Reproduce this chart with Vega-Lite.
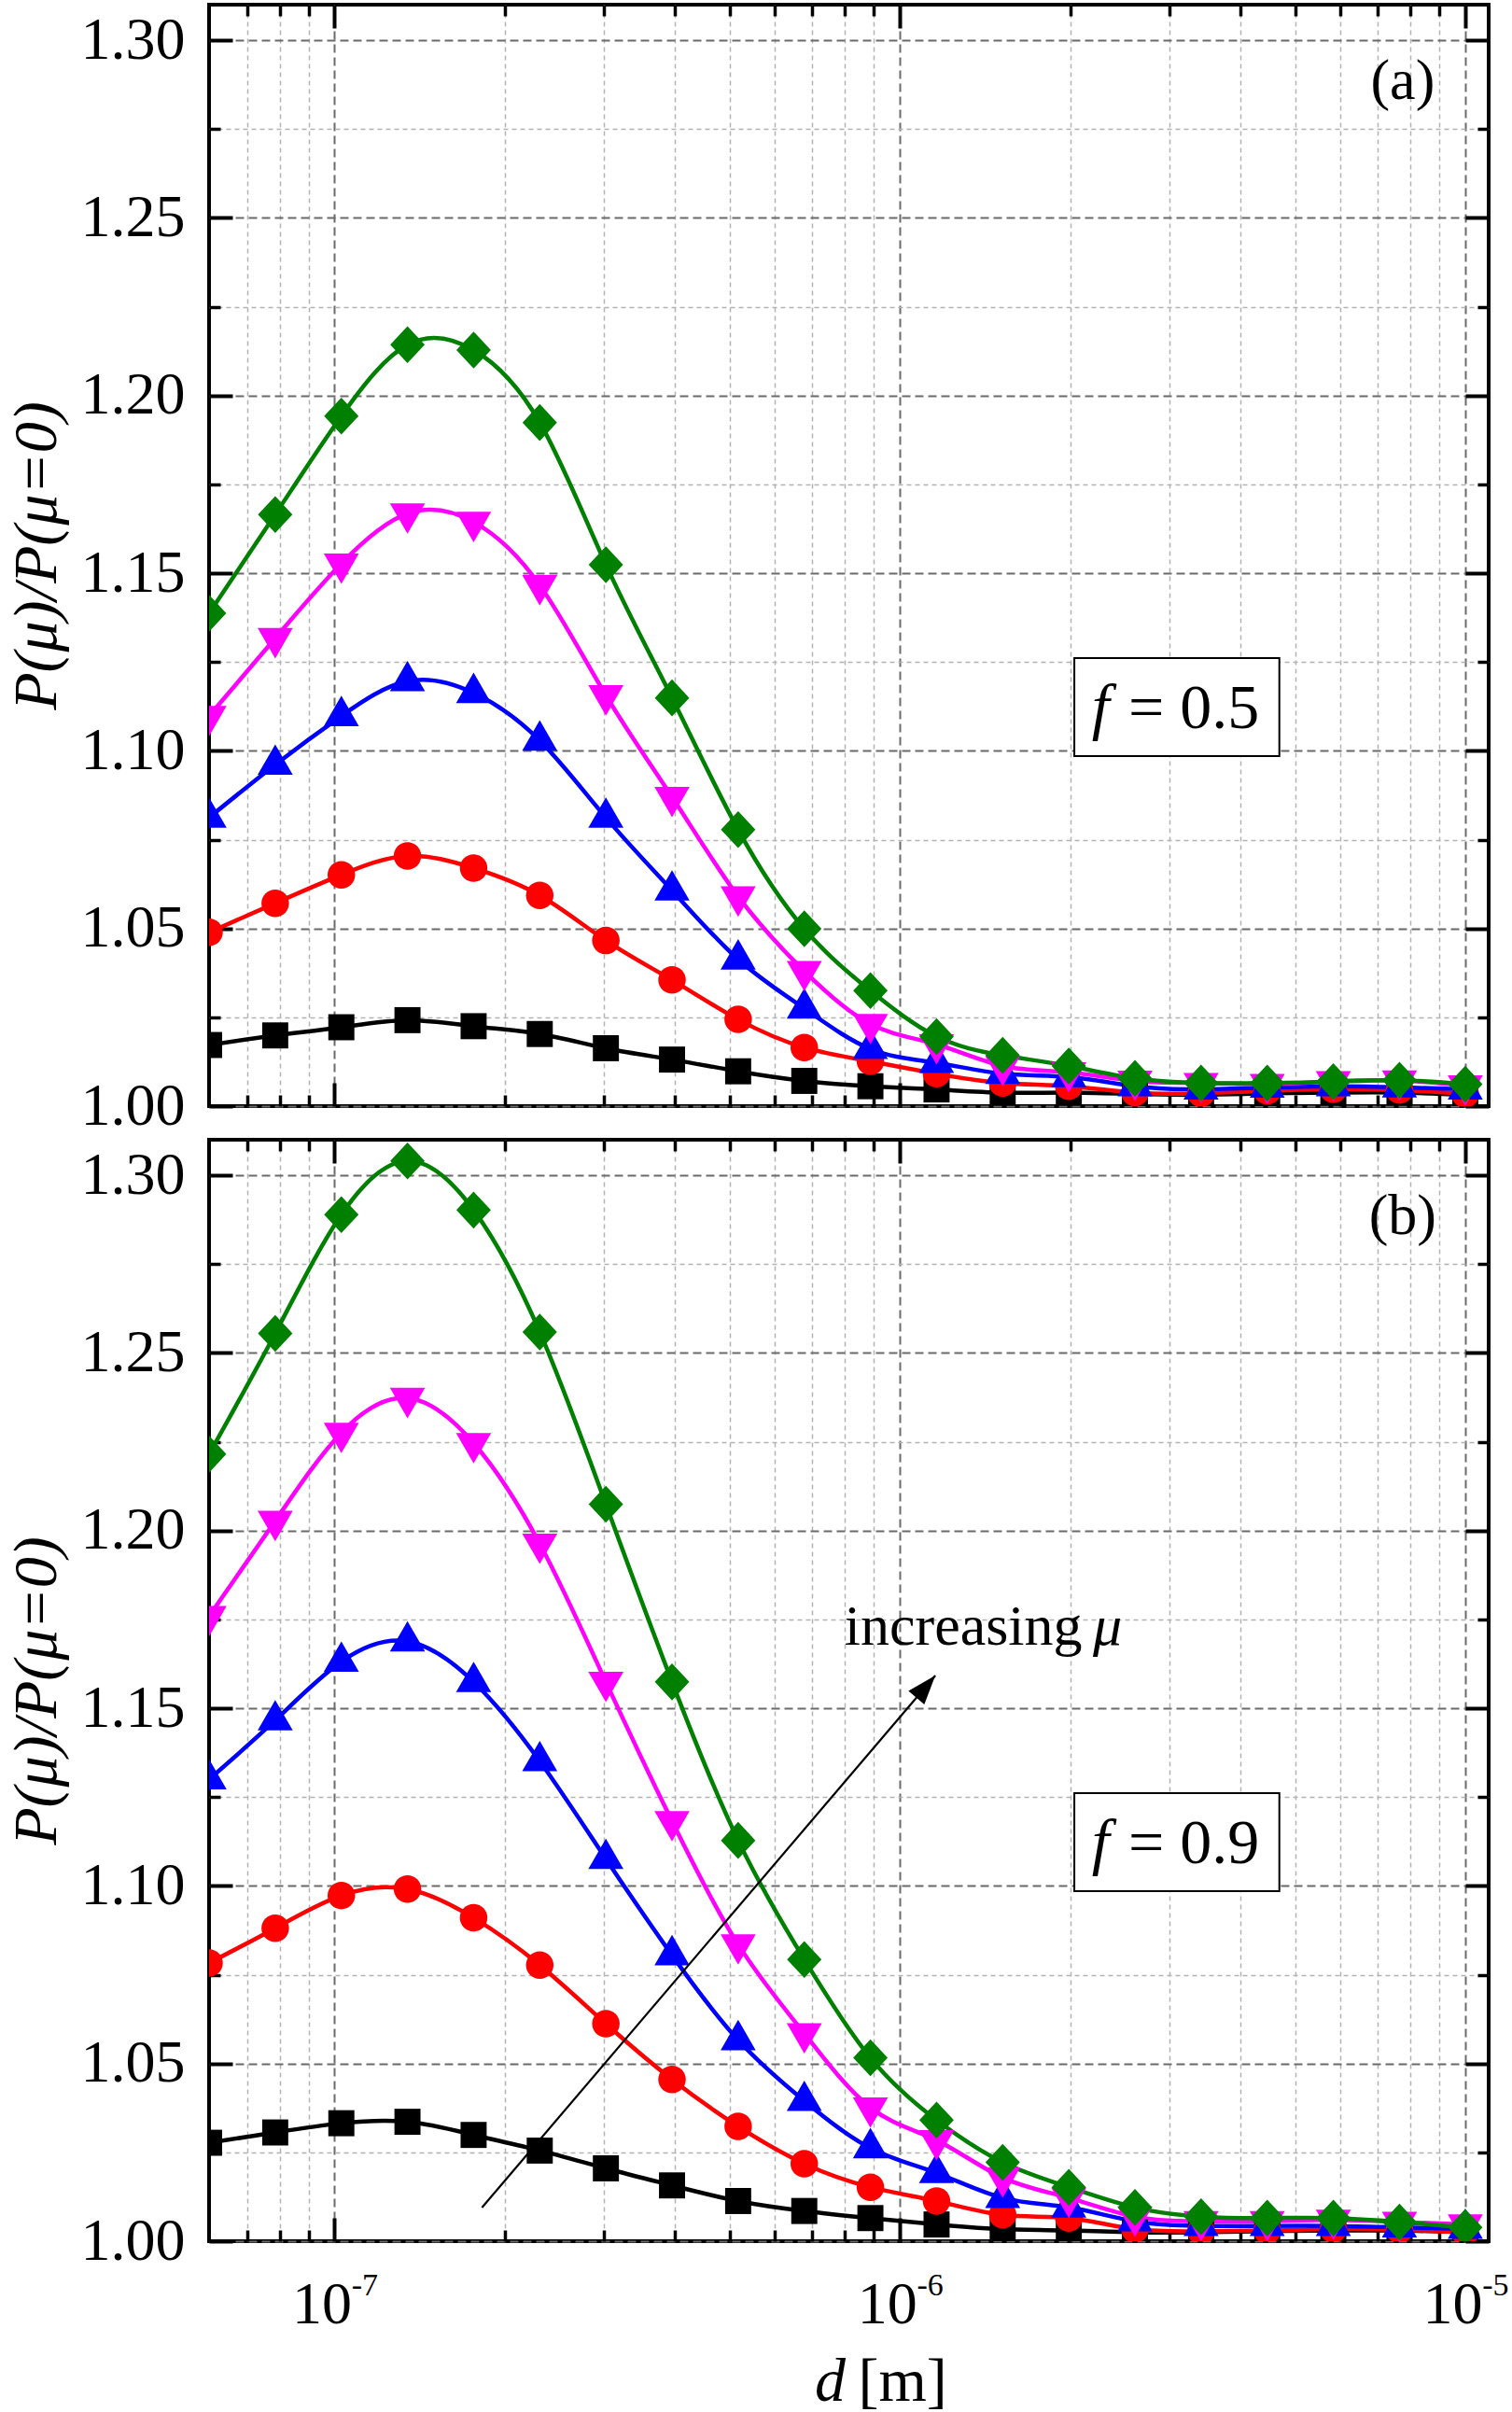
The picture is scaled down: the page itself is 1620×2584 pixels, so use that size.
{
  "$schema": "https://vega.github.io/schema/vega-lite/v6.json",
  "background": "white",
  "padding": {"left": 4, "top": 1, "right": 0, "bottom": 0},
  "bounds": "flush",
  "spacing": 36,
  "resolve": {"legend": {"color": "independent", "shape": "independent"}},
  "config": {
    "view": {"stroke": "black", "strokeWidth": 4},
    "axis": {
      "domain": false, "grid": false, "tickColor": "black", "tickWidth": 4,
      "labelFont": "Liberation Serif", "labelFontSize": 64, "labelColor": "black",
      "titleFont": "Liberation Serif", "titleFontSize": 66, "titleColor": "black", "titleFontWeight": "normal",
      "labelFlush": false, "labelOverlap": false
    },
    "text": {"font": "Liberation Serif", "color": "black"}
  },
  "datasets": {
    "curves": [
      {"panel":"a","mu":"0.2","d":6.0e-8,"ratio":1.0172},{"panel":"a","mu":"0.2","d":7.855e-8,"ratio":1.0199},{"panel":"a","mu":"0.2","d":1.0283e-7,"ratio":1.0222},{"panel":"a","mu":"0.2","d":1.3461e-7,"ratio":1.0242},{"panel":"a","mu":"0.2","d":1.7622e-7,"ratio":1.0225},{"panel":"a","mu":"0.2","d":2.3069e-7,"ratio":1.0203},{"panel":"a","mu":"0.2","d":3.02e-7,"ratio":1.0163},{"panel":"a","mu":"0.2","d":3.9535e-7,"ratio":1.0131},{"panel":"a","mu":"0.2","d":5.1755e-7,"ratio":1.0098},{"panel":"a","mu":"0.2","d":6.7752e-7,"ratio":1.0071},{"panel":"a","mu":"0.2","d":8.869e-7,"ratio":1.0056},{"panel":"a","mu":"0.2","d":1.1611e-6,"ratio":1.0047},{"panel":"a","mu":"0.2","d":1.5199e-6,"ratio":1.0038},{"panel":"a","mu":"0.2","d":1.9897e-6,"ratio":1.0038},{"panel":"a","mu":"0.2","d":2.6047e-6,"ratio":1.0034},{"panel":"a","mu":"0.2","d":3.4098e-6,"ratio":1.0032},{"panel":"a","mu":"0.2","d":4.4638e-6,"ratio":1.0036},{"panel":"a","mu":"0.2","d":5.8434e-6,"ratio":1.0038},{"panel":"a","mu":"0.2","d":7.6496e-6,"ratio":1.0038},{"panel":"a","mu":"0.2","d":1.0e-5,"ratio":1.0032},
      {"panel":"a","mu":"0.4","d":6.0e-8,"ratio":1.0489},{"panel":"a","mu":"0.4","d":7.855e-8,"ratio":1.0571},{"panel":"a","mu":"0.4","d":1.0283e-7,"ratio":1.0651},{"panel":"a","mu":"0.4","d":1.3461e-7,"ratio":1.0704},{"panel":"a","mu":"0.4","d":1.7622e-7,"ratio":1.067},{"panel":"a","mu":"0.4","d":2.3069e-7,"ratio":1.0593},{"panel":"a","mu":"0.4","d":3.02e-7,"ratio":1.0466},{"panel":"a","mu":"0.4","d":3.9535e-7,"ratio":1.0355},{"panel":"a","mu":"0.4","d":5.1755e-7,"ratio":1.0244},{"panel":"a","mu":"0.4","d":6.7752e-7,"ratio":1.0165},{"panel":"a","mu":"0.4","d":8.869e-7,"ratio":1.0126},{"panel":"a","mu":"0.4","d":1.1611e-6,"ratio":1.0091},{"panel":"a","mu":"0.4","d":1.5199e-6,"ratio":1.0065},{"panel":"a","mu":"0.4","d":1.9897e-6,"ratio":1.0056},{"panel":"a","mu":"0.4","d":2.6047e-6,"ratio":1.0038},{"panel":"a","mu":"0.4","d":3.4098e-6,"ratio":1.0036},{"panel":"a","mu":"0.4","d":4.4638e-6,"ratio":1.0043},{"panel":"a","mu":"0.4","d":5.8434e-6,"ratio":1.0047},{"panel":"a","mu":"0.4","d":7.6496e-6,"ratio":1.0045},{"panel":"a","mu":"0.4","d":1.0e-5,"ratio":1.0034},
      {"panel":"a","mu":"0.6","d":6.0e-8,"ratio":1.0812},{"panel":"a","mu":"0.6","d":7.855e-8,"ratio":1.0961},{"panel":"a","mu":"0.6","d":1.0283e-7,"ratio":1.1098},{"panel":"a","mu":"0.6","d":1.3461e-7,"ratio":1.1196},{"panel":"a","mu":"0.6","d":1.7622e-7,"ratio":1.1163},{"panel":"a","mu":"0.6","d":2.3069e-7,"ratio":1.1029},{"panel":"a","mu":"0.6","d":3.02e-7,"ratio":1.0812},{"panel":"a","mu":"0.6","d":3.9535e-7,"ratio":1.0607},{"panel":"a","mu":"0.6","d":5.1755e-7,"ratio":1.0413},{"panel":"a","mu":"0.6","d":6.7752e-7,"ratio":1.0275},{"panel":"a","mu":"0.6","d":8.869e-7,"ratio":1.0161},{"panel":"a","mu":"0.6","d":1.1611e-6,"ratio":1.0122},{"panel":"a","mu":"0.6","d":1.5199e-6,"ratio":1.0091},{"panel":"a","mu":"0.6","d":1.9897e-6,"ratio":1.0082},{"panel":"a","mu":"0.6","d":2.6047e-6,"ratio":1.0056},{"panel":"a","mu":"0.6","d":3.4098e-6,"ratio":1.0047},{"panel":"a","mu":"0.6","d":4.4638e-6,"ratio":1.0052},{"panel":"a","mu":"0.6","d":5.8434e-6,"ratio":1.0056},{"panel":"a","mu":"0.6","d":7.6496e-6,"ratio":1.0053},{"panel":"a","mu":"0.6","d":1.0e-5,"ratio":1.0047},
      {"panel":"a","mu":"0.8","d":6.0e-8,"ratio":1.1098},{"panel":"a","mu":"0.8","d":7.855e-8,"ratio":1.1317},{"panel":"a","mu":"0.8","d":1.0283e-7,"ratio":1.1527},{"panel":"a","mu":"0.8","d":1.3461e-7,"ratio":1.1668},{"panel":"a","mu":"0.8","d":1.7622e-7,"ratio":1.1644},{"panel":"a","mu":"0.8","d":2.3069e-7,"ratio":1.1466},{"panel":"a","mu":"0.8","d":3.02e-7,"ratio":1.1156},{"panel":"a","mu":"0.8","d":3.9535e-7,"ratio":1.087},{"panel":"a","mu":"0.8","d":5.1755e-7,"ratio":1.059},{"panel":"a","mu":"0.8","d":6.7752e-7,"ratio":1.038},{"panel":"a","mu":"0.8","d":8.869e-7,"ratio":1.0231},{"panel":"a","mu":"0.8","d":1.1611e-6,"ratio":1.0174},{"panel":"a","mu":"0.8","d":1.5199e-6,"ratio":1.0113},{"panel":"a","mu":"0.8","d":1.9897e-6,"ratio":1.0095},{"panel":"a","mu":"0.8","d":2.6047e-6,"ratio":1.0071},{"panel":"a","mu":"0.8","d":3.4098e-6,"ratio":1.0065},{"panel":"a","mu":"0.8","d":4.4638e-6,"ratio":1.0062},{"panel":"a","mu":"0.8","d":5.8434e-6,"ratio":1.007},{"panel":"a","mu":"0.8","d":7.6496e-6,"ratio":1.0072},{"panel":"a","mu":"0.8","d":1.0e-5,"ratio":1.0058},
      {"panel":"a","mu":"1.0","d":6.0e-8,"ratio":1.1387},{"panel":"a","mu":"1.0","d":7.855e-8,"ratio":1.1665},{"panel":"a","mu":"1.0","d":1.0283e-7,"ratio":1.1942},{"panel":"a","mu":"1.0","d":1.3461e-7,"ratio":1.2143},{"panel":"a","mu":"1.0","d":1.7622e-7,"ratio":1.2128},{"panel":"a","mu":"1.0","d":2.3069e-7,"ratio":1.1924},{"panel":"a","mu":"1.0","d":3.02e-7,"ratio":1.1524},{"panel":"a","mu":"1.0","d":3.9535e-7,"ratio":1.1149},{"panel":"a","mu":"1.0","d":5.1755e-7,"ratio":1.0778},{"panel":"a","mu":"1.0","d":6.7752e-7,"ratio":1.0499},{"panel":"a","mu":"1.0","d":8.869e-7,"ratio":1.0325},{"panel":"a","mu":"1.0","d":1.1611e-6,"ratio":1.0196},{"panel":"a","mu":"1.0","d":1.5199e-6,"ratio":1.0143},{"panel":"a","mu":"1.0","d":1.9897e-6,"ratio":1.0113},{"panel":"a","mu":"1.0","d":2.6047e-6,"ratio":1.0078},{"panel":"a","mu":"1.0","d":3.4098e-6,"ratio":1.0065},{"panel":"a","mu":"1.0","d":4.4638e-6,"ratio":1.0065},{"panel":"a","mu":"1.0","d":5.8434e-6,"ratio":1.0069},{"panel":"a","mu":"1.0","d":7.6496e-6,"ratio":1.0073},{"panel":"a","mu":"1.0","d":1.0e-5,"ratio":1.0062},
      {"panel":"b","mu":"0.2","d":6.0e-8,"ratio":1.0277},{"panel":"b","mu":"0.2","d":7.855e-8,"ratio":1.0306},{"panel":"b","mu":"0.2","d":1.0283e-7,"ratio":1.0332},{"panel":"b","mu":"0.2","d":1.3461e-7,"ratio":1.0336},{"panel":"b","mu":"0.2","d":1.7622e-7,"ratio":1.0299},{"panel":"b","mu":"0.2","d":2.3069e-7,"ratio":1.0255},{"panel":"b","mu":"0.2","d":3.02e-7,"ratio":1.0205},{"panel":"b","mu":"0.2","d":3.9535e-7,"ratio":1.0157},{"panel":"b","mu":"0.2","d":5.1755e-7,"ratio":1.0113},{"panel":"b","mu":"0.2","d":6.7752e-7,"ratio":1.0085},{"panel":"b","mu":"0.2","d":8.869e-7,"ratio":1.0065},{"panel":"b","mu":"0.2","d":1.1611e-6,"ratio":1.0047},{"panel":"b","mu":"0.2","d":1.5199e-6,"ratio":1.0034},{"panel":"b","mu":"0.2","d":1.9897e-6,"ratio":1.003},{"panel":"b","mu":"0.2","d":2.6047e-6,"ratio":1.0025},{"panel":"b","mu":"0.2","d":3.4098e-6,"ratio":1.0025},{"panel":"b","mu":"0.2","d":4.4638e-6,"ratio":1.0028},{"panel":"b","mu":"0.2","d":5.8434e-6,"ratio":1.003},{"panel":"b","mu":"0.2","d":7.6496e-6,"ratio":1.003},{"panel":"b","mu":"0.2","d":1.0e-5,"ratio":1.0025},
      {"panel":"b","mu":"0.4","d":6.0e-8,"ratio":1.0783},{"panel":"b","mu":"0.4","d":7.855e-8,"ratio":1.0881},{"panel":"b","mu":"0.4","d":1.0283e-7,"ratio":1.0973},{"panel":"b","mu":"0.4","d":1.3461e-7,"ratio":1.0991},{"panel":"b","mu":"0.4","d":1.7622e-7,"ratio":1.091},{"panel":"b","mu":"0.4","d":2.3069e-7,"ratio":1.0777},{"panel":"b","mu":"0.4","d":3.02e-7,"ratio":1.0612},{"panel":"b","mu":"0.4","d":3.9535e-7,"ratio":1.0455},{"panel":"b","mu":"0.4","d":5.1755e-7,"ratio":1.0323},{"panel":"b","mu":"0.4","d":6.7752e-7,"ratio":1.0218},{"panel":"b","mu":"0.4","d":8.869e-7,"ratio":1.0152},{"panel":"b","mu":"0.4","d":1.1611e-6,"ratio":1.0113},{"panel":"b","mu":"0.4","d":1.5199e-6,"ratio":1.0074},{"panel":"b","mu":"0.4","d":1.9897e-6,"ratio":1.0065},{"panel":"b","mu":"0.4","d":2.6047e-6,"ratio":1.0034},{"panel":"b","mu":"0.4","d":3.4098e-6,"ratio":1.0028},{"panel":"b","mu":"0.4","d":4.4638e-6,"ratio":1.003},{"panel":"b","mu":"0.4","d":5.8434e-6,"ratio":1.0034},{"panel":"b","mu":"0.4","d":7.6496e-6,"ratio":1.0032},{"panel":"b","mu":"0.4","d":1.0e-5,"ratio":1.0025},
      {"panel":"b","mu":"0.6","d":6.0e-8,"ratio":1.13},{"panel":"b","mu":"0.6","d":7.855e-8,"ratio":1.1466},{"panel":"b","mu":"0.6","d":1.0283e-7,"ratio":1.1631},{"panel":"b","mu":"0.6","d":1.3461e-7,"ratio":1.1688},{"panel":"b","mu":"0.6","d":1.7622e-7,"ratio":1.1574},{"panel":"b","mu":"0.6","d":2.3069e-7,"ratio":1.1351},{"panel":"b","mu":"0.6","d":3.02e-7,"ratio":1.1076},{"panel":"b","mu":"0.6","d":3.9535e-7,"ratio":1.0805},{"panel":"b","mu":"0.6","d":5.1755e-7,"ratio":1.0566},{"panel":"b","mu":"0.6","d":6.7752e-7,"ratio":1.0395},{"panel":"b","mu":"0.6","d":8.869e-7,"ratio":1.0262},{"panel":"b","mu":"0.6","d":1.1611e-6,"ratio":1.0192},{"panel":"b","mu":"0.6","d":1.5199e-6,"ratio":1.0122},{"panel":"b","mu":"0.6","d":1.9897e-6,"ratio":1.0095},{"panel":"b","mu":"0.6","d":2.6047e-6,"ratio":1.0056},{"panel":"b","mu":"0.6","d":3.4098e-6,"ratio":1.0043},{"panel":"b","mu":"0.6","d":4.4638e-6,"ratio":1.0043},{"panel":"b","mu":"0.6","d":5.8434e-6,"ratio":1.0043},{"panel":"b","mu":"0.6","d":7.6496e-6,"ratio":1.0039},{"panel":"b","mu":"0.6","d":1.0e-5,"ratio":1.0035},
      {"panel":"b","mu":"0.8","d":6.0e-8,"ratio":1.1759},{"panel":"b","mu":"0.8","d":7.855e-8,"ratio":1.2027},{"panel":"b","mu":"0.8","d":1.0283e-7,"ratio":1.2275},{"panel":"b","mu":"0.8","d":1.3461e-7,"ratio":1.2373},{"panel":"b","mu":"0.8","d":1.7622e-7,"ratio":1.2246},{"panel":"b","mu":"0.8","d":2.3069e-7,"ratio":1.1963},{"panel":"b","mu":"0.8","d":3.02e-7,"ratio":1.1574},{"panel":"b","mu":"0.8","d":3.9535e-7,"ratio":1.1182},{"panel":"b","mu":"0.8","d":5.1755e-7,"ratio":1.0835},{"panel":"b","mu":"0.8","d":6.7752e-7,"ratio":1.0585},{"panel":"b","mu":"0.8","d":8.869e-7,"ratio":1.0376},{"panel":"b","mu":"0.8","d":1.1611e-6,"ratio":1.0284},{"panel":"b","mu":"0.8","d":1.5199e-6,"ratio":1.0179},{"panel":"b","mu":"0.8","d":1.9897e-6,"ratio":1.0122},{"panel":"b","mu":"0.8","d":2.6047e-6,"ratio":1.0069},{"panel":"b","mu":"0.8","d":3.4098e-6,"ratio":1.0056},{"panel":"b","mu":"0.8","d":4.4638e-6,"ratio":1.0056},{"panel":"b","mu":"0.8","d":5.8434e-6,"ratio":1.006},{"panel":"b","mu":"0.8","d":7.6496e-6,"ratio":1.0054},{"panel":"b","mu":"0.8","d":1.0e-5,"ratio":1.0047},
      {"panel":"b","mu":"1.0","d":6.0e-8,"ratio":1.2215},{"panel":"b","mu":"1.0","d":7.855e-8,"ratio":1.2555},{"panel":"b","mu":"1.0","d":1.0283e-7,"ratio":1.2889},{"panel":"b","mu":"1.0","d":1.3461e-7,"ratio":1.304},{"panel":"b","mu":"1.0","d":1.7622e-7,"ratio":1.2902},{"panel":"b","mu":"1.0","d":2.3069e-7,"ratio":1.2559},{"panel":"b","mu":"1.0","d":3.02e-7,"ratio":1.2074},{"panel":"b","mu":"1.0","d":3.9535e-7,"ratio":1.1574},{"panel":"b","mu":"1.0","d":5.1755e-7,"ratio":1.1128},{"panel":"b","mu":"1.0","d":6.7752e-7,"ratio":1.0793},{"panel":"b","mu":"1.0","d":8.869e-7,"ratio":1.0516},{"panel":"b","mu":"1.0","d":1.1611e-6,"ratio":1.0341},{"panel":"b","mu":"1.0","d":1.5199e-6,"ratio":1.0222},{"panel":"b","mu":"1.0","d":1.9897e-6,"ratio":1.0152},{"panel":"b","mu":"1.0","d":2.6047e-6,"ratio":1.0095},{"panel":"b","mu":"1.0","d":3.4098e-6,"ratio":1.0069},{"panel":"b","mu":"1.0","d":4.4638e-6,"ratio":1.0065},{"panel":"b","mu":"1.0","d":5.8434e-6,"ratio":1.0065},{"panel":"b","mu":"1.0","d":7.6496e-6,"ratio":1.0054},{"panel":"b","mu":"1.0","d":1.0e-5,"ratio":1.0039}
    ]
  },
  "vconcat": [
    {
      "width": 1371,
      "height": 1180,
      "data": {"name": "curves"},
      "transform": [{"filter": "datum.panel === 'a'"}],
      "resolve": {"axis": {"x": "independent", "y": "independent"}},
      "layer": [
        {
          "mark": {"type": "point", "opacity": 0},
          "encoding": {
            "x": {"field": "d", "type": "quantitative", "scale": {"type": "log", "domain": [6e-8, 1.1e-5], "nice": false},
              "axis": {"orient": "bottom", "values": [7e-8, 8e-8, 9e-8, 2e-7, 3e-7, 4e-7, 5e-7, 6e-7, 7e-7, 8e-7, 9e-7, 2e-6, 3e-6, 4e-6, 5e-6, 6e-6, 7e-6, 8e-6, 9e-6], "labels": false, "title": null, "tickSize": -12, "tickWidth": 3.5, "grid": true, "gridColor": "#b3b3b3", "gridDash": [5, 4], "gridWidth": 1.5}},
            "y": {"field": "ratio", "type": "quantitative", "scale": {"domain": [1, 1.31], "nice": false, "zero": false},
              "axis": {"orient": "left", "values": [1.025, 1.075, 1.125, 1.175, 1.225, 1.275], "labels": false, "title": null, "tickSize": -12, "tickWidth": 3.5, "grid": true, "gridColor": "#b3b3b3", "gridDash": [5, 4], "gridWidth": 1.5}}
          }
        },
        {
          "mark": {"type": "line", "interpolate": "natural", "strokeWidth": 4.5, "clip": true},
          "encoding": {
            "x": {"field": "d", "type": "quantitative",
              "axis": {"orient": "bottom", "values": [1e-7, 1e-6, 1e-5], "labels": false, "title": null, "tickSize": -25, "grid": true, "gridColor": "#6b6b6b", "gridDash": [9, 5], "gridWidth": 2}},
            "y": {"field": "ratio", "type": "quantitative",
              "axis": {"orient": "left", "values": [1, 1.05, 1.1, 1.15, 1.2, 1.25, 1.3], "format": ".2f", "tickSize": -25, "labelPadding": 51, "grid": true, "gridColor": "#6b6b6b", "gridDash": [9, 5], "gridWidth": 2, "title": "P(μ)/P(μ=0)", "titleFontStyle": "italic", "titlePadding": 13}},
            "color": {"field": "mu", "type": "nominal", "scale": {"domain": ["0.2", "0.4", "0.6", "0.8", "1.0"], "range": ["#000000", "#ff0000", "#0000ff", "#ff00ff", "#008000"]}, "legend": null}
          }
        },
        {
          "mark": {"type": "point", "filled": true, "size": 1000, "opacity": 1, "clip": true},
          "encoding": {
            "x": {"field": "d", "type": "quantitative",
              "axis": {"orient": "top", "values": [1e-7, 1e-6, 1e-5], "labels": false, "title": null, "tickSize": -25}},
            "y": {"field": "ratio", "type": "quantitative",
              "axis": {"orient": "right", "values": [1, 1.05, 1.1, 1.15, 1.2, 1.25, 1.3], "labels": false, "title": null, "tickSize": -25}},
            "color": {"field": "mu", "type": "nominal",
              "legend": {
                "orient": "none", "legendX": 792, "legendY": 165, "direction": "vertical", "title": null, "padding": 0,
                "labelFont": "Liberation Serif", "labelFontSize": 62, "labelColor": "black", "labelOffset": 55, "labelLimit": 500,
                "labelExpr": "'μ = ' + datum.label + ' eV'",
                "symbolSize": 900, "symbolStrokeWidth": 3, "rowPadding": 22
              }},
            "shape": {"field": "mu", "type": "nominal", "legend": null,
              "scale": {"domain": ["0.2", "0.4", "0.6", "0.8", "1.0"], "range": ["M-0.883,-0.883H0.883V0.883H-0.883Z", "M-0.933,0A0.933,0.933,0,1,1,0.933,0A0.933,0.933,0,1,1,-0.933,0Z", "M0,-1.373L1.19,0.687L-1.19,0.687Z", "M0,1.373L1.19,-0.687L-1.19,-0.687Z", "M0,-1.25L1.167,0L0,1.25L-1.167,0Z"]}}
          }
        },
        {
          "mark": {"type": "point", "opacity": 0},
          "encoding": {
            "x": {"field": "d", "type": "quantitative",
              "axis": {"orient": "top", "values": [7e-8, 8e-8, 9e-8, 2e-7, 3e-7, 4e-7, 5e-7, 6e-7, 7e-7, 8e-7, 9e-7, 2e-6, 3e-6, 4e-6, 5e-6, 6e-6, 7e-6, 8e-6, 9e-6], "labels": false, "title": null, "tickSize": -12, "tickWidth": 3.5}},
            "y": {"field": "ratio", "type": "quantitative",
              "axis": {"orient": "right", "values": [1.025, 1.075, 1.125, 1.175, 1.225, 1.275], "labels": false, "title": null, "tickSize": -12, "tickWidth": 3.5}}
          }
        },
        {
          "data": {"values": [{}]},
          "mark": {"type": "rect", "fill": "white", "stroke": "black", "strokeWidth": 2},
          "encoding": {
            "x": {"datum": 2.035e-6, "type": "quantitative", "axis": null},
            "x2": {"datum": 4.69e-6},
            "y": {"datum": 1.1261, "type": "quantitative", "axis": null},
            "y2": {"datum": 1.0985}
          }
        },
        {
          "data": {"values": [{}]},
          "mark": {"type": "text", "text": "f", "fontStyle": "italic", "fontSize": 68, "align": "center", "baseline": "alphabetic"},
          "encoding": {
            "x": {"datum": 2.264e-6, "type": "quantitative", "axis": null},
            "y": {"datum": 1.1064, "type": "quantitative", "axis": null}
          }
        },
        {
          "data": {"values": [{}]},
          "mark": {"type": "text", "text": "= 0.5", "fontSize": 68, "align": "left", "baseline": "alphabetic"},
          "encoding": {
            "x": {"datum": 2.536e-6, "type": "quantitative", "axis": null},
            "y": {"datum": 1.1064, "type": "quantitative", "axis": null}
          }
        },
        {
          "data": {"values": [{}]},
          "mark": {"type": "text", "text": "(a)", "fontSize": 62, "align": "center", "baseline": "middle"},
          "encoding": {
            "x": {"datum": 7.75e-6, "type": "quantitative", "axis": null},
            "y": {"datum": 1.2885, "type": "quantitative", "axis": null}
          }
        }
      ]
    },
    {
      "width": 1371,
      "height": 1180,
      "data": {"name": "curves"},
      "transform": [{"filter": "datum.panel === 'b'"}],
      "resolve": {"axis": {"x": "independent", "y": "independent"}},
      "layer": [
        {
          "mark": {"type": "point", "opacity": 0},
          "encoding": {
            "x": {"field": "d", "type": "quantitative", "scale": {"type": "log", "domain": [6e-8, 1.1e-5], "nice": false},
              "axis": {"orient": "bottom", "values": [7e-8, 8e-8, 9e-8, 2e-7, 3e-7, 4e-7, 5e-7, 6e-7, 7e-7, 8e-7, 9e-7, 2e-6, 3e-6, 4e-6, 5e-6, 6e-6, 7e-6, 8e-6, 9e-6], "labels": false, "title": null, "tickSize": -12, "tickWidth": 3.5, "grid": true, "gridColor": "#b3b3b3", "gridDash": [5, 4], "gridWidth": 1.5}},
            "y": {"field": "ratio", "type": "quantitative", "scale": {"domain": [1, 1.31], "nice": false, "zero": false},
              "axis": {"orient": "left", "values": [1.025, 1.075, 1.125, 1.175, 1.225, 1.275], "labels": false, "title": null, "tickSize": -12, "tickWidth": 3.5, "grid": true, "gridColor": "#b3b3b3", "gridDash": [5, 4], "gridWidth": 1.5}}
          }
        },
        {
          "mark": {"type": "point", "opacity": 0},
          "encoding": {
            "x": {"field": "d", "type": "quantitative",
              "axis": {"orient": "bottom", "values": [1e-7, 1e-6, 1e-5], "ticks": false, "tickSize": 0, "labelPadding": 30, "labelOffset": 32, "labelFontSize": 34,
                "labelExpr": "datum.value < 5e-7 ? '-7' : datum.value < 5e-6 ? '-6' : '-5'",
                "title": "d", "titleFontStyle": "italic", "titleX": 665, "titleY": 170, "titleAlign": "center", "titleBaseline": "alphabetic"}},
            "y": {"field": "ratio", "type": "quantitative", "axis": null}
          }
        },
        {
          "mark": {"type": "line", "interpolate": "natural", "strokeWidth": 4.5, "clip": true},
          "encoding": {
            "x": {"field": "d", "type": "quantitative",
              "axis": {"orient": "bottom", "values": [1e-7, 1e-6, 1e-5], "tickSize": -25, "labelPadding": 61, "labelOffset": -14, "grid": true, "gridColor": "#6b6b6b", "gridDash": [9, 5], "gridWidth": 2,
                "labelExpr": "'10'",
                "title": "[m]", "titleX": 695, "titleY": 170, "titleAlign": "left", "titleBaseline": "alphabetic"}},
            "y": {"field": "ratio", "type": "quantitative",
              "axis": {"orient": "left", "values": [1, 1.05, 1.1, 1.15, 1.2, 1.25, 1.3], "format": ".2f", "tickSize": -25, "labelPadding": 51, "grid": true, "gridColor": "#6b6b6b", "gridDash": [9, 5], "gridWidth": 2, "title": "P(μ)/P(μ=0)", "titleFontStyle": "italic", "titlePadding": 13}},
            "color": {"field": "mu", "type": "nominal", "legend": null}
          }
        },
        {
          "mark": {"type": "point", "filled": true, "size": 1000, "opacity": 1, "clip": true},
          "encoding": {
            "x": {"field": "d", "type": "quantitative",
              "axis": {"orient": "top", "values": [1e-7, 1e-6, 1e-5], "labels": false, "title": null, "tickSize": -25}},
            "y": {"field": "ratio", "type": "quantitative",
              "axis": {"orient": "right", "values": [1, 1.05, 1.1, 1.15, 1.2, 1.25, 1.3], "labels": false, "title": null, "tickSize": -25}},
            "color": {"field": "mu", "type": "nominal", "legend": null},
            "shape": {"field": "mu", "type": "nominal", "legend": null}
          }
        },
        {
          "mark": {"type": "point", "opacity": 0},
          "encoding": {
            "x": {"field": "d", "type": "quantitative",
              "axis": {"orient": "top", "values": [7e-8, 8e-8, 9e-8, 2e-7, 3e-7, 4e-7, 5e-7, 6e-7, 7e-7, 8e-7, 9e-7, 2e-6, 3e-6, 4e-6, 5e-6, 6e-6, 7e-6, 8e-6, 9e-6], "labels": false, "title": null, "tickSize": -12, "tickWidth": 3.5}},
            "y": {"field": "ratio", "type": "quantitative",
              "axis": {"orient": "right", "values": [1.025, 1.075, 1.125, 1.175, 1.225, 1.275], "labels": false, "title": null, "tickSize": -12, "tickWidth": 3.5}}
          }
        },
        {
          "data": {"values": [{}]},
          "mark": {"type": "rect", "fill": "white", "stroke": "black", "strokeWidth": 2},
          "encoding": {
            "x": {"datum": 2.035e-6, "type": "quantitative", "axis": null},
            "x2": {"datum": 4.69e-6},
            "y": {"datum": 1.1261, "type": "quantitative", "axis": null},
            "y2": {"datum": 1.0985}
          }
        },
        {
          "data": {"values": [{}]},
          "mark": {"type": "text", "text": "f", "fontStyle": "italic", "fontSize": 68, "align": "center", "baseline": "alphabetic"},
          "encoding": {
            "x": {"datum": 2.264e-6, "type": "quantitative", "axis": null},
            "y": {"datum": 1.1064, "type": "quantitative", "axis": null}
          }
        },
        {
          "data": {"values": [{}]},
          "mark": {"type": "text", "text": "= 0.9", "fontSize": 68, "align": "left", "baseline": "alphabetic"},
          "encoding": {
            "x": {"datum": 2.536e-6, "type": "quantitative", "axis": null},
            "y": {"datum": 1.1064, "type": "quantitative", "axis": null}
          }
        },
        {
          "data": {"values": [{}]},
          "mark": {"type": "text", "text": "(b)", "fontSize": 62, "align": "center", "baseline": "middle"},
          "encoding": {
            "x": {"datum": 7.75e-6, "type": "quantitative", "axis": null},
            "y": {"datum": 1.2885, "type": "quantitative", "axis": null}
          }
        },
        {
          "data": {"values": [{}]},
          "mark": {"type": "rule", "color": "black", "strokeWidth": 2.2},
          "encoding": {
            "x": {"datum": 1.823e-7, "type": "quantitative", "axis": null},
            "y": {"datum": 1.00946, "type": "quantitative", "axis": null},
            "x2": {"datum": 1.1553e-6},
            "y2": {"datum": 1.1592}
          }
        },
        {
          "data": {"values": [{}]},
          "mark": {"type": "point", "shape": "M0,0L1,2.8L-1,2.8Z", "size": 500, "angle": 40.45, "filled": true, "color": "black", "opacity": 1},
          "encoding": {
            "x": {"datum": 1.1553e-6, "type": "quantitative", "axis": null},
            "y": {"datum": 1.1592, "type": "quantitative", "axis": null}
          }
        },
        {
          "data": {"values": [{}]},
          "mark": {"type": "text", "text": "increasing", "fontSize": 62, "align": "left", "baseline": "alphabetic"},
          "encoding": {
            "x": {"datum": 7.98e-7, "type": "quantitative", "axis": null},
            "y": {"datum": 1.1679, "type": "quantitative", "axis": null}
          }
        },
        {
          "data": {"values": [{}]},
          "mark": {"type": "text", "text": "μ", "fontStyle": "italic", "fontSize": 62, "align": "left", "baseline": "alphabetic"},
          "encoding": {
            "x": {"datum": 2.196e-6, "type": "quantitative", "axis": null},
            "y": {"datum": 1.1679, "type": "quantitative", "axis": null}
          }
        }
      ]
    }
  ]
}
